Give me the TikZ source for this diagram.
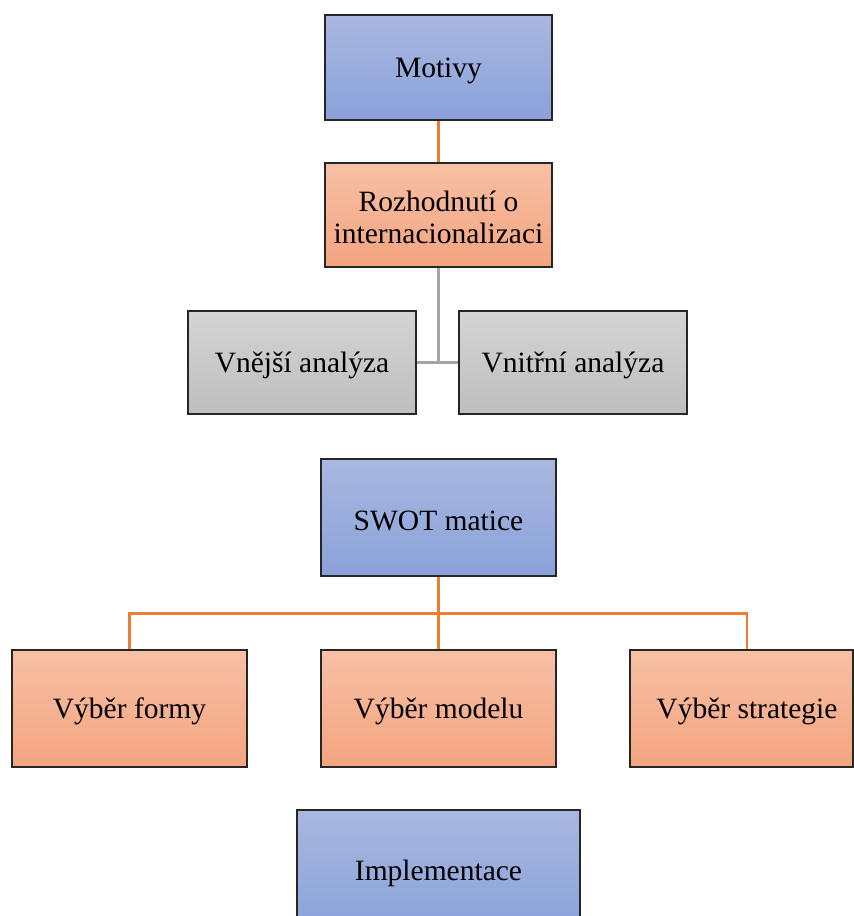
\documentclass[tikz,border=0pt]{standalone}
\usepackage{fontspec}
\setmainfont{Liberation Serif}
\definecolor{bluetop}{HTML}{A9B7E0}
\definecolor{bluebot}{HTML}{8AA2DA}
\definecolor{ortop}{HTML}{F7C0A5}
\definecolor{orbot}{HTML}{F4A47F}
\definecolor{grtop}{HTML}{D4D4D4}
\definecolor{grbot}{HTML}{BEBEBE}
\definecolor{bord}{HTML}{262626}
\definecolor{orline}{HTML}{ED7D31}
\definecolor{grline}{HTML}{A5A5A5}
\newcommand{\lowtxt}[2][3pt]{\raisebox{-#1}[\height][\depth]{#2}}
\begin{document}
\begin{tikzpicture}[x=1pt,y=-1pt,
  box/.style={draw=bord, line width=1.3pt, inner sep=0pt, align=center,
    font=\fontsize{29.5}{32}\selectfont, text=black},
  bluebox/.style={box, top color=bluetop, bottom color=bluebot},
  orbox/.style={box, top color=ortop, bottom color=orbot},
  grbox/.style={box, top color=grtop, bottom color=grbot},
  orconn/.style={draw=orline, line width=2.6pt},
  grconn/.style={draw=grline, line width=2.8pt}]
\clip (0,0) rectangle (854,916);
\fill[white] (0,0) rectangle (854,916);
\node[bluebox, minimum width=227pt, minimum height=105pt] (motivy) at (438.5,67.5) {\lowtxt{Motivy}};
\node[orbox, minimum width=227pt, minimum height=104pt] (rozh) at (438.5,215) {\lowtxt[2pt]{Rozhodnutí o}\\\lowtxt[2pt]{internacionalizaci}};
\node[grbox, minimum width=228pt, minimum height=103pt] (vnejsi) at (302,362.5) {\lowtxt{Vnější analýza}};
\node[grbox, minimum width=228pt, minimum height=103pt] (vnitrni) at (573,362.5) {\lowtxt{Vnitřní analýza}};
\node[bluebox, minimum width=235pt, minimum height=117pt] (swot) at (438.5,517.5) {\lowtxt{SWOT matice}};
\node[orbox, minimum width=235pt, minimum height=117pt] (forma) at (129.5,708.5) {\lowtxt{Výběr formy}};
\node[orbox, minimum width=235pt, minimum height=117pt] (model) at (438.5,708.5) {\lowtxt{Výběr modelu}};
\node[orbox, minimum width=223pt, minimum height=117pt] (strat) at (741.5,708.5) {\lowtxt{\hspace*{11pt}Výběr strategie}};
\node[bluebox, minimum width=283pt, minimum height=120pt] (impl) at (438.5,870) {\lowtxt{Implementace}};
\coordinate (stratn) at ([xshift=5.5pt]strat.north);
\draw[orconn] (motivy.south) -- (rozh.south |- rozh.north);
\draw[grconn] (rozh.south) -- (rozh.south |- vnejsi.east);
\draw[grconn] (vnejsi.east) -- (vnitrni.west);
\draw[orconn] (swot.south) -- (model.north);
\draw[orconn] (swot.south) -- ++(0,37) -| (forma.north);
\draw[orconn] (swot.south) -- ++(0,37) -| (stratn);
\end{tikzpicture}
\end{document}
